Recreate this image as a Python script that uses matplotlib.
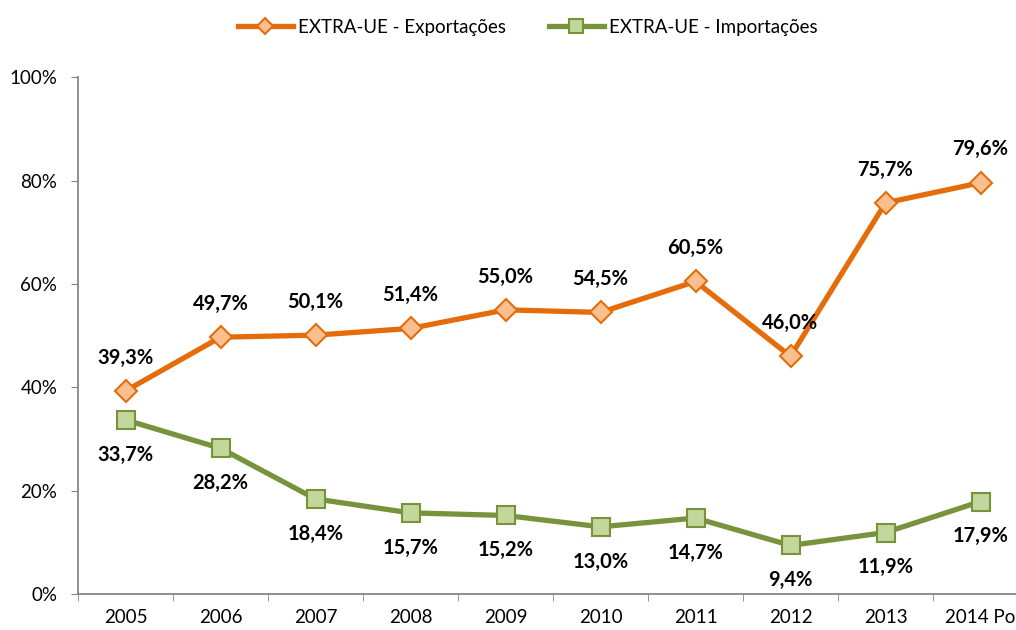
import matplotlib
matplotlib.use("Agg")
import matplotlib.pyplot as plt
import numpy as np

# data
years = ["2005", "2006", "2007", "2008", "2009", "2010", "2011", "2012", "2013", "2014 Po"]
exportacoes = [39.3, 49.7, 50.1, 51.4, 55.0, 54.5, 60.5, 46.0, 75.7, 79.6]
importacoes = [33.7, 28.2, 18.4, 15.7, 15.2, 13.0, 14.7, 9.4, 11.9, 17.9]

plt.rcParams['font.family'] = ['Lato', 'DejaVu Sans']

W, H = 1016, 630
fig = plt.figure(figsize=(W / 100, H / 100), dpi=100)
# axis runs past the right edge in the original, so let it
ax = fig.add_axes([78 / W, 36 / H, 950 / W, 558 / H])

x = np.arange(len(years))
ax.plot(x, exportacoes, color='#E46C0A', lw=3.8, marker='D', ms=11,
        mfc='#FABF8F', mec='#E46C0A', mew=1.5, label='EXTRA-UE - Exportações', zorder=3)
ax.plot(x, importacoes, color='#77933C', lw=3.8, marker='s', ms=13,
        mfc='#C3D69B', mec='#77933C', mew=1.5, label='EXTRA-UE - Importações', zorder=3)

def fmt(v):
    return ("%.1f%%" % v).replace('.', ',')

for i, v in enumerate(exportacoes):
    ax.annotate(fmt(v), (i, v), xytext=(0, 24), textcoords='offset points',
                ha='center', va='center', fontsize=14.5, fontweight='bold')
for i, v in enumerate(importacoes):
    ax.annotate(fmt(v), (i, v), xytext=(0, -25), textcoords='offset points',
                ha='center', va='center', fontsize=14.5, fontweight='bold')

ax.set_xlim(-0.5, len(years) - 0.5)
ax.set_ylim(0, 108)
ax.set_yticks([0, 20, 40, 60, 80, 100])
ax.set_yticklabels(["0%", "20%", "40%", "60%", "80%", "100%"], fontsize=13.5)
ax.spines['left'].set_bounds(0, 100)

ax.set_xticks(x)
ax.set_xticklabels(years, fontsize=13.5)
ax.set_xticks(np.arange(-0.5, len(years)), minor=True)
ax.tick_params(axis='x', which='major', length=0, pad=11)
ax.tick_params(axis='x', which='minor', length=5, color='#868686')
ax.tick_params(axis='y', length=5, color='#868686', pad=10)

for s in ['top', 'right']:
    ax.spines[s].set_visible(False)
for s in ['left', 'bottom']:
    ax.spines[s].set_color('#868686')
    ax.spines[s].set_linewidth(1.3)

fig.legend(loc='center', bbox_to_anchor=(528 / W, 1 - 27 / H), ncol=2, frameon=False,
           fontsize=13.5, handlelength=2.9, columnspacing=2.3, handletextpad=0.3,
           markerscale=0.75)

fig.savefig('out.png', dpi=100)
